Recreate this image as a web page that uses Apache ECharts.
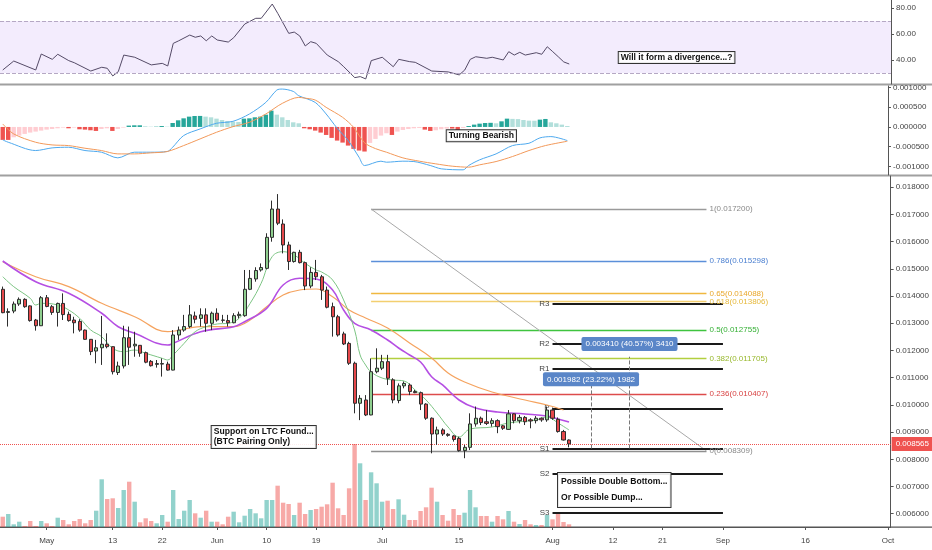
<!DOCTYPE html>
<html>
<head>
<meta charset="utf-8">
<script src="https://cdn.jsdelivr.net/npm/echarts@6/dist/echarts.min.js"></script>
<style>
html,body{margin:0;padding:0;background:#fff}
#container{width:932px;height:550px}
</style>
</head>
<body>
<div id="container"></div>
<script>
// LTC/BTC daily, 2019-04-23 .. 2019-08-04  [open, close, low, high]
var candles = [
[0.01425,0.01339,0.01337,0.01435],[0.01340,0.01343,0.01288,0.01355],[0.01345,0.01371,0.01337,0.01380],[0.01371,0.01388,0.01364,0.01395],
[0.01388,0.01361,0.01357,0.01392],[0.01364,0.01310,0.01306,0.01366],[0.01312,0.01291,0.01273,0.01316],[0.01291,0.01394,0.01290,0.01400],
[0.01394,0.01362,0.01359,0.01404],[0.01361,0.01340,0.01331,0.01367],[0.01340,0.01373,0.01288,0.01376],[0.01373,0.01332,0.01312,0.01410],
[0.01333,0.01310,0.01306,0.01343],[0.01312,0.01302,0.01263,0.01324],[0.01307,0.01275,0.01269,0.01315],[0.01275,0.01241,0.01239,0.01277],
[0.01241,0.01196,0.01183,0.01242],[0.01198,0.01210,0.01153,0.01239],[0.01210,0.01223,0.01147,0.01327],[0.01223,0.01214,0.01208,0.01263],
[0.01214,0.01122,0.01112,0.01215],[0.01119,0.01143,0.01110,0.01159],[0.01143,0.01247,0.01134,0.01291],[0.01247,0.01212,0.01147,0.01288],
[0.01217,0.01223,0.01177,0.01269],[0.01219,0.01190,0.01177,0.01220],[0.01192,0.01157,0.01153,0.01196],[0.01160,0.01144,0.01141,0.01165],
[0.01149,0.01152,0.01137,0.01165],[0.01150,0.01152,0.01104,0.01171],[0.01150,0.01128,0.01126,0.01159],[0.01128,0.01257,0.01127,0.01275],
[0.01257,0.01275,0.01239,0.01288],[0.01275,0.01288,0.01269,0.01331],[0.01288,0.01331,0.01282,0.01367],[0.01327,0.01315,0.01300,0.01343],
[0.01318,0.01331,0.01288,0.01355],[0.01331,0.01300,0.01269,0.01355],[0.01300,0.01337,0.01275,0.01343],[0.01337,0.01312,0.01306,0.01355],
[0.01312,0.01311,0.01302,0.01331],[0.01310,0.01302,0.01288,0.01331],[0.01302,0.01328,0.01300,0.01337],[0.01328,0.01333,0.01318,0.01343],
[0.01328,0.01425,0.01324,0.01496],[0.01425,0.01465,0.01422,0.01496],[0.01463,0.01494,0.01453,0.01506],[0.01496,0.01505,0.01490,0.01520],
[0.01502,0.01616,0.01498,0.01631],[0.01616,0.01720,0.01600,0.01751],[0.01720,0.01668,0.01661,0.01775],[0.01665,0.01588,0.01557,0.01682],
[0.01588,0.01527,0.01496,0.01600],[0.01527,0.01561,0.01523,0.01563],[0.01561,0.01523,0.01520,0.01570],[0.01523,0.01437,0.01422,0.01527],
[0.01437,0.01487,0.01429,0.01506],[0.01487,0.01471,0.01459,0.01533],[0.01471,0.01422,0.01386,0.01478],[0.01422,0.01359,0.01355,0.01435],
[0.01361,0.01324,0.01251,0.01376],[0.01324,0.01257,0.01251,0.01331],[0.01261,0.01224,0.01220,0.01269],[0.01226,0.01153,0.01147,0.01232],
[0.01153,0.01006,0.00969,0.01159],[0.01006,0.01024,0.00944,0.01036],[0.01018,0.00963,0.00959,0.01036],[0.00963,0.01122,0.00962,0.01171],
[0.01122,0.01135,0.01116,0.01208],[0.01135,0.01159,0.01128,0.01184],[0.01159,0.01098,0.01073,0.01184],[0.01092,0.01018,0.01006,0.01098],
[0.01016,0.01070,0.01006,0.01079],[0.01070,0.01079,0.01061,0.01086],[0.01073,0.01049,0.01036,0.01079],[0.01049,0.01045,0.01043,0.01055],
[0.01045,0.01003,0.00981,0.01049],[0.01003,0.00951,0.00945,0.01006],[0.00951,0.00893,0.00822,0.00954],[0.00893,0.00908,0.00853,0.00920],
[0.00908,0.00893,0.00886,0.00914],[0.00892,0.00888,0.00883,0.00896],[0.00886,0.00873,0.00865,0.00889],[0.00877,0.00832,0.00828,0.00883],
[0.00832,0.00844,0.00804,0.00853],[0.00844,0.00930,0.00834,0.00969],[0.00930,0.00951,0.00920,0.00994],[0.00951,0.00935,0.00926,0.00957],
[0.00938,0.00932,0.00926,0.00981],[0.00932,0.00942,0.00920,0.00951],[0.00942,0.00920,0.00896,0.00947],[0.00923,0.00914,0.00908,0.00926],
[0.00910,0.00967,0.00908,0.00981],[0.00967,0.00942,0.00932,0.00969],[0.00942,0.00954,0.00932,0.00963],[0.00954,0.00938,0.00926,0.00959],
[0.00945,0.00941,0.00914,0.00951],[0.00942,0.00951,0.00932,0.00959],[0.00951,0.00945,0.00938,0.00954],[0.00945,0.00981,0.00938,0.00994],
[0.00981,0.00951,0.00945,0.00990],[0.00947,0.00902,0.00898,0.00954],[0.00902,0.00871,0.00869,0.00908],[0.00871,0.008565,0.00844,0.00873]
];
// volume (relative units)
var volumes = [10.3,13,2.7,5.3,1,6,1,6,3.7,1,9.3,7,2.7,6,8,3.7,7,16.3,47.7,28,28.7,19,37,45.3,25.3,4.7,8.7,6,3.7,12,
5.3,37,8,16.3,27,13.7,9.3,16.3,5.3,5.3,2.7,10.3,15.3,4.7,11.3,18,13.7,8.7,27,27,41.3,24.3,23,12,24.3,13,17,18,20.3,22.7,
44.3,18.7,12,38.7,83,63.7,27,54.7,43.7,25.3,26.3,18,27.7,12.3,7,7,16,19.7,39.3,25.3,12,6.3,18,12,14.3,37,19.7,11,11,5.3,
11,7.7,16,5.3,3,7,2.7,2,2,12,7.7,13,5,2.7];

// moving averages: [day index, price]
var maFast = [[0,0.014713],[2,0.014346],[5,0.013919],[6,0.013673],[7,0.013735],[10,0.013673],[12,0.013489],[14,0.013184],[16,0.012754],
[18,0.012507],[20,0.012081],[22,0.011956],[24,0.012018],[26,0.011897],[29,0.011713],[30,0.011651],[31,0.011835],[33,0.012265],[35,0.012691],
[37,0.012875],[39,0.012974],[41,0.013000],[43,0.013184],[45,0.013735],[47,0.014471],[49,0.015449],[51,0.015632],[53,0.015511],[55,0.015206],
[57,0.014960],[58,0.014886],[60,0.014592],[62,0.013857],[64,0.012754],[65,0.011835],[66,0.011467],[67,0.011210],[69,0.010989],[71,0.010915],
[73,0.010879],[75,0.010548],[77,0.010180],[79,0.009702],[81,0.009187],[83,0.008820],[85,0.009114],[89,0.009187],[92,0.009335],[97,0.009445],
[99,0.009555],[101,0.009335],[103,0.009077]];
var maMid = [[0,0.015290],[6,0.014529],[12,0.014103],[18,0.013368],[21,0.012875],[24,0.012632],[30,0.012202],[31,0.012265],[36,0.012691],
[42,0.012875],[44,0.013059],[48,0.013551],[51,0.014408],[54,0.014654],[57,0.014629],[60,0.014224],[62,0.013489],[64,0.013000],[67,0.012754],
[70,0.012386],[72,0.012092],[74,0.011835],[76,0.011577],[78,0.011037],[80,0.010732],[83,0.010180],[86,0.009886],[90,0.009739],[95,0.009665],
[99,0.009592],[101,0.009482],[103,0.009371]];
var maSlow = [[0,0.015265],[6,0.014713],[12,0.014346],[18,0.013735],[24,0.013243],[30,0.012691],[36,0.012875],[42,0.012875],[45,0.013121],
[48,0.013610],[51,0.014040],[54,0.014224],[57,0.014261],[60,0.013978],[63,0.013489],[66,0.013195],[70,0.012827],[74,0.012276],[78,0.011724],
[81,0.011173],[84,0.010842],[89,0.010474],[95,0.010180],[99,0.009996],[102,0.009812]];

var rsiPts = [[0,32.3],[2,39.2],[6,32.3],[7,44.6],[9,40.5],[10,44.4],[12,39.5],[13,37.9],[16,31.5],[18,34.4],[19,33.6],[20,27.7],[21,31],
[22,43.8],[24,42.1],[27,36.2],[29,37.4],[30,35.4],[31,52.8],[32,54.8],[34,59.2],[35,57.5],[36,58.5],[37,54.8],[38,58.5],[39,55.4],[41,53.8],
[42,57.2],[44,67.7],[46,72.1],[47,72.1],[49,83.1],[50,75.9],[52,60.5],[53,61.5],[54,58.5],[55,50.8],[56,54.1],[57,52.8],[59,43.8],[61,38.7],
[62,34.8],[64,26.4],[65,27.2],[66,25.4],[67,39.5],[69,42.1],[71,34.8],[72,40.5],[74,38.7],[75,38.2],[78,31.5],[81,30.8],[83,28.5],[84,32.3],
[85,40.5],[86,42.5],[88,41.3],[89,42.1],[91,40],[92,46.4],[93,43.8],[94,45.9],[95,43.8],[97,45.6],[98,44.4],[99,50.2],[100,46.4],[101,42.5],
[102,38.5],[103,36.9]];

var macdHist = [-0.000329,-0.000329,-0.000262,-0.000219,-0.000177,-0.000143,-0.000118,-0.000093,-0.000068,-0.000051,-0.000034,-0.000017,
-0.000034,-0.000017,-0.000059,-0.000068,-0.000084,-0.000101,-0.000051,-0.000034,-0.000101,-0.000051,-0.000017,0.000034,0.000042,0.000042,
0.000017,0.000008,0.000008,0.000025,0.000008,0.000101,0.000169,0.000219,0.000262,0.000278,0.000280,0.000262,0.000245,0.000211,0.000177,
0.000152,0.000135,0.000127,0.000211,0.000219,0.000245,0.000262,0.000312,0.000414,0.000312,0.000245,0.000177,0.000118,0.000093,-0.000034,
-0.000059,-0.000093,-0.000143,-0.000203,-0.000278,-0.000346,-0.000397,-0.000473,-0.000557,-0.000599,-0.000624,-0.000405,-0.000304,-0.000219,
-0.000160,-0.000203,-0.000118,-0.000076,-0.000051,-0.000034,-0.000025,-0.000068,-0.000101,-0.000084,-0.000059,-0.000042,-0.000042,-0.000076,
-0.000025,0.000025,0.000059,0.000084,0.000101,0.000105,0.000093,0.000143,0.000211,0.000205,0.000200,0.000177,0.000160,0.000158,0.000186,
0.000203,0.000118,0.000093,0.000059,0.000025];
var macdLine = [[0,-0.000329],[1,-0.000388],[6,-0.000599],[9,-0.000532],[12,-0.000515],[15,-0.000599],[18,-0.000641],[21,-0.000785],
[24,-0.000641],[27,-0.000641],[30,-0.000624],[31,-0.000515],[33,-0.000219],[36,-0.000051],[39,0.000093],[42,0.000143],[45,0.000329],
[48,0.000624],[50,0.000937],[51,0.000962],[53,0.000903],[54,0.000793],[57,0.000624],[59,0.000330],[61,-0.000030],[63,-0.000340],
[65,-0.000768],[66,-0.000980],[69,-0.000869],[70,-0.000895],[73,-0.000869],[75,-0.000878],[78,-0.000979],[80,-0.001063],[84,-0.001089],
[85,-0.000979],[87,-0.000835],[90,-0.000684],[93,-0.000473],[96,-0.000414],[98,-0.000278],[100,-0.000245],[103,-0.000346]];
var signalLine = [[0,0.000076],[2,-0.000177],[6,-0.000388],[9,-0.000456],[12,-0.000473],[15,-0.000540],[18,-0.000599],[21,-0.000684],
[24,-0.000684],[27,-0.000658],[30,-0.000624],[33,-0.000473],[36,-0.000304],[39,-0.000135],[42,0.000008],[45,0.000118],[48,0.000329],
[51,0.000599],[54,0.000751],[55,0.000734],[57,0.000684],[59,0.000498],[62,0.000245],[64,-0.000008],[66,-0.000400],[68,-0.000550],
[70,-0.000641],[73,-0.000785],[76,-0.000869],[79,-0.000937],[82,-0.000996],[85,-0.001021],[87,-0.000962],[90,-0.000878],[93,-0.000751],
[96,-0.000599],[99,-0.000473],[103,-0.000363]];

var fibLevels = ['1','0.786','0.65','0.618','0.5','0.382','0.236','0'];
var fibPrices = [0.0172,0.015298,0.014088,0.013806,0.012755,0.011705,0.010407,0.008309];
var fibColors = ['#9a9a9a','#5b8fd9','#f0b840','#f3cf70','#3fc43f','#b2cf3f','#dd4b4b','#8f8f8f'];
var fibLabelColors = ['#888','#4a7fd0','#e9a72a','#e6b83a','#35b035','#98b82d','#d84343','#888'];
var pivotNames = ['R3','R2','R1','P','S1','S2','S3'];
var pivotPrices = [0.013735,0.012239,0.011345,0.009875,0.008404,0.007485,0.006037];
var lastPrice = 0.008565;

var tickDates = ['2019-05-01','2019-05-13','2019-05-22','2019-06-01','2019-06-10','2019-06-19','2019-07-01','2019-07-15',
  '2019-08-01','2019-08-12','2019-08-21','2019-09-01','2019-09-16','2019-10-01'];
var tickText = ['May','13','22','Jun','10','19','Jul','15','Aug','12','21','Sep','16','Oct'];

var dates = [];
var d0 = Date.UTC(2019, 3, 23);
for (var k = 0; k < 162; k++) {
  dates.push(new Date(d0 + k * 86400000).toISOString().slice(0, 10));
}

var UP = '#8fcf8f', DOWN = '#e5484b';
var volData = volumes.map(function(v, i) {
  var up = candles[i][1] >= candles[i][0];
  return {value: v, itemStyle: {color: up ? 'rgba(38,166,154,0.5)' : 'rgba(239,83,80,0.5)'}};
});
var histData = macdHist.map(function(v, i) {
  var prev = i > 0 ? macdHist[i - 1] : v;
  var c;
  if (v >= 0) c = v >= prev ? '#26a69a' : '#b2dfdb';
  else c = v <= prev ? '#ef5350' : '#ffcdd2';
  return {value: v, itemStyle: {color: c}};
});

function showTick(idx, val) { return tickDates.indexOf(val) >= 0; }

var boxLabel = {
  show: true, position: 'right', distance: 0, color: '#111', fontSize: 8.6, fontWeight: 'bold',
  backgroundColor: 'rgba(255,255,255,0.9)', borderColor: '#333', borderWidth: 1, padding: [1, 2]
};
function note(coord, text, extra) {
  var lab = Object.assign({}, boxLabel, {formatter: text}, extra || {});
  return {coord: coord, symbol: 'circle', symbolSize: 0, label: lab};
}
function tag(coord, text) {
  return {coord: coord, symbol: 'circle', symbolSize: 0,
    label: {show: true, position: 'inside', color: '#fff', fontSize: 8, formatter: text,
      backgroundColor: '#5a86c8', borderRadius: 2, padding: [3, 4]}};
}

var axisLab = {color: '#444', fontSize: 8, margin: 5};
var dom = document.getElementById('container');
var myChart = echarts.init(dom);
var option = {
  animation: false,
  textStyle: {fontFamily: 'Liberation Sans, Arial, sans-serif'},
  grid: [
    {left: 0, right: 41, top: 0, height: 84},
    {left: 0, right: 41, top: 86, height: 89},
    {left: 0, right: 41, top: 176, height: 351}
  ],
  graphic: [
    {type: 'rect', shape: {x: 0, y: 83.5, width: 932, height: 2}, style: {fill: '#a0a0a0'}, silent: true},
    {type: 'rect', shape: {x: 0, y: 174.5, width: 932, height: 2}, style: {fill: '#a0a0a0'}, silent: true},
    {type: 'rect', shape: {x: 0, y: 526.5, width: 932, height: 1.2}, style: {fill: '#555'}, silent: true}
  ],
  xAxis: [0, 1, 2].map(function(g) {
    return {
      type: 'category', gridIndex: g, data: dates,
      axisLine: {show: g === 2, lineStyle: {color: '#555'}},
      axisTick: {show: g === 2, interval: showTick, alignWithLabel: true, length: 3, lineStyle: {color: '#555'}},
      axisLabel: {show: g === 2, interval: showTick, color: '#444', fontSize: 8, margin: 10,
        formatter: function(val) { return tickText[tickDates.indexOf(val)]; }},
      splitLine: {show: false}
    };
  }),
  yAxis: [
    {type: 'value', gridIndex: 0, position: 'right', min: 21.5, max: 86.2, splitNumber: 3, minInterval: 20, maxInterval: 20,
      axisLine: {show: true, lineStyle: {color: '#555'}}, axisTick: {show: true, length: 3},
      axisLabel: Object.assign({showMinLabel: false, showMaxLabel: false, formatter: function(v) { return v.toFixed(2); }}, axisLab),
      splitLine: {show: false}},
    {type: 'value', gridIndex: 1, position: 'right', min: -0.00122, max: 0.00104, splitNumber: 5, minInterval: 0.0005, maxInterval: 0.0005,
      axisLine: {show: true, lineStyle: {color: '#555'}}, axisTick: {show: true, length: 3},
      axisLabel: Object.assign({showMinLabel: false, showMaxLabel: false, formatter: function(v) { return v.toFixed(6); }}, axisLab),
      splitLine: {show: false}},
    {type: 'value', gridIndex: 2, position: 'right', min: 0.005511, max: 0.018415, splitNumber: 13, minInterval: 0.001, maxInterval: 0.001,
      axisLine: {show: true, lineStyle: {color: '#555'}}, axisTick: {show: true, length: 3},
      axisLabel: Object.assign({showMinLabel: false, showMaxLabel: false, formatter: function(v) { return v.toFixed(6); }}, axisLab),
      splitLine: {show: false}},
    {type: 'value', gridIndex: 2, min: 0, max: 351, show: false}
  ],
  series: [
    // RSI
    {type: 'line', xAxisIndex: 0, yAxisIndex: 0, data: rsiPts, symbol: 'none',
      lineStyle: {color: '#544a66', width: 1},
      markArea: {silent: true, itemStyle: {color: 'rgba(160,110,240,0.13)'}, data: [[{yAxis: 30}, {yAxis: 70}]]},
      markLine: {silent: true, symbol: 'none', label: {show: false},
        lineStyle: {color: '#b5a8c4', type: 'dashed', width: 1}, data: [{yAxis: 70}, {yAxis: 30}]},
      markPoint: {data: [note([112, 41.9], 'Will it form a divergence...?')]}
    },
    // MACD
    {type: 'bar', xAxisIndex: 1, yAxisIndex: 1, data: histData, barWidth: 4.4,
      markPoint: {data: [note([81, -0.000221], 'Turning Bearish')]}},
    {type: 'line', xAxisIndex: 1, yAxisIndex: 1, data: macdLine, symbol: 'none', smooth: 0.3,
      lineStyle: {color: '#4ea9ee', width: 1}},
    {type: 'line', xAxisIndex: 1, yAxisIndex: 1, data: signalLine, symbol: 'none', smooth: 0.3,
      lineStyle: {color: '#f2995a', width: 1}},
    // volume
    {type: 'bar', xAxisIndex: 2, yAxisIndex: 3, data: volData, barWidth: 4.4, z: 1},
    // fib retracement
    {type: 'line', xAxisIndex: 2, yAxisIndex: 2, data: [], z: 2,
      markLine: {silent: true, symbol: 'none', precision: 6,
        data: fibPrices.map(function(p, k) {
          return [{coord: [67, p], lineStyle: {color: fibColors[k], width: 1.3, type: 'solid'},
            label: {show: true, position: 'end', distance: 3, color: fibLabelColors[k], fontSize: 8,
              formatter: fibLevels[k] + '(' + p.toFixed(6) + ')'}}, {coord: [128, p]}];
        }).concat([[{coord: [67, fibPrices[0]], lineStyle: {color: '#a8a8a8', width: 1, type: 'solid'}, label: {show: false}},
          {coord: [128, fibPrices[7]]}]])
      }},
    // monthly pivots + last price
    {type: 'line', xAxisIndex: 2, yAxisIndex: 2, data: [], z: 3,
      markLine: {silent: true, symbol: 'none', precision: 6,
        data: pivotPrices.map(function(p, k) {
          return [{coord: [100, p], lineStyle: {color: '#1a1a1a', width: 2, type: 'solid'},
            label: {show: true, position: 'start', distance: 3, color: '#444', fontSize: 8, formatter: pivotNames[k]}},
            {coord: [131, p]}];
        }).concat([{yAxis: lastPrice, lineStyle: {color: '#ef5350', type: 'dotted', width: 1},
          label: {show: true, position: 'end', distance: 1, formatter: lastPrice.toFixed(6), color: '#fff', fontSize: 8,
            backgroundColor: '#ef5350', padding: [3, 4]}}])
      }},
    // measurement arrows and boxes
    {type: 'line', xAxisIndex: 2, yAxisIndex: 2, data: [], z: 4,
      markLine: {silent: true, symbol: ['none', 'arrow'], symbolSize: [0, 6], label: {show: false}, precision: 6,
        lineStyle: {color: '#777', type: 'dashed', width: 1},
        data: [[{coord: [107, 0.0084]}, {coord: [107, 0.01082]}], [{coord: [114, 0.0084]}, {coord: [114, 0.01177]}]]},
      markPoint: {data: [
        tag([107, 0.010941], '0.001982 (23.22%) 1982'),
        tag([114, 0.012239], '0.003410 (40.57%) 3410'),
        note([38, 0.00882], 'Support on LTC Found...\n(BTC Pairing Only)', {lineHeight: 10}),
        note([101, 0.006871], 'Possible Double Bottom...\nOr Possible Dump...', {lineHeight: 16, padding: [1, 3]})
      ]}},
    // moving averages
    {type: 'line', xAxisIndex: 2, yAxisIndex: 2, data: maSlow, symbol: 'none', smooth: 0.4, z: 5,
      lineStyle: {color: '#f5a35f', width: 1.2}},
    {type: 'line', xAxisIndex: 2, yAxisIndex: 2, data: maMid, symbol: 'none', smooth: 0.4, z: 5,
      lineStyle: {color: '#b54fe3', width: 1.6}},
    {type: 'line', xAxisIndex: 2, yAxisIndex: 2, data: maFast, symbol: 'none', smooth: 0.4, z: 5,
      lineStyle: {color: '#7cc483', width: 1}},
    // candles
    {type: 'candlestick', xAxisIndex: 2, yAxisIndex: 2, data: candles, barWidth: 3.6, z: 6,
      itemStyle: {color: UP, color0: DOWN, borderColor: '#2e2e2e', borderColor0: '#2e2e2e', borderWidth: 1}}
  ]
};
if (option && typeof option === 'object') {
  myChart.setOption(option, true);
}
</script>
</body>
</html>
